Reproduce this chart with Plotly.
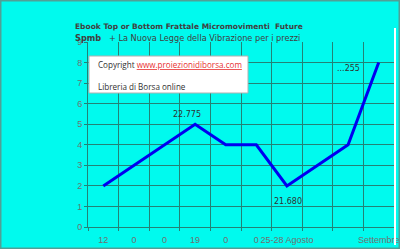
import plotly.graph_objects as go

categories = ["12", "0", "0", "19", "0", "0", "25-28 Agosto", "", "", "Settembre"]
values = [2, 3, 4, 5, 4, 4, 2, 3, 4, 8]
point_labels = {3: "22.775", 6: "21.680", 9: "...255"}
y_ticks = list(range(0, 10))

BG = "rgb(0,250,238)"
GRID = "rgb(35,130,118)"
W, H = 400, 249
L, R, T, B = 88, 6, 42, 22
PW, PH = W - L - R, H - T - B

def px(x):
    return (x - L) / PW

def py(y):
    return (H - B - y) / PH

xs = list(range(len(values)))

fig = go.Figure()
fig.add_trace(go.Scatter(x=xs, y=values, mode="lines",
                         line=dict(color="#0000f0", width=3), showlegend=False,
                         hoverinfo="skip"))
fig.add_trace(go.Scatter(x=xs, y=values, xaxis="x2", mode="none",
                         showlegend=False, hoverinfo="skip"))

fig.update_layout(
    width=W, height=H,
    margin=dict(l=L, r=R, t=T, b=B, autoexpand=False),
    paper_bgcolor=BG, plot_bgcolor=BG,
    font=dict(family="Liberation Sans, Arial", size=9, color="#707070"),
    xaxis=dict(range=[-0.5, len(values) - 0.5],
               tickvals=[i - 0.5 for i in range(len(values) + 1)],
               ticktext=[""] * (len(values) + 1),
               showgrid=True, gridcolor=GRID, gridwidth=1,
               showline=True, linecolor=GRID, linewidth=1,
               ticks="outside", ticklen=3, tickcolor=GRID,
               zeroline=False, fixedrange=True, automargin=False, tickangle=0),
    xaxis2=dict(range=[-0.5, len(values) - 0.5], overlaying="x", side="bottom",
                tickvals=xs, ticktext=categories, showgrid=False,
                showline=False, ticks="", zeroline=False, automargin=False,
                tickangle=0, ticklabeloverflow="allow", ticklabelstandoff=6,
                tickfont=dict(size=9, color="#707070")),
    yaxis=dict(range=[0, 9], tickvals=y_ticks, ticktext=[str(v) for v in y_ticks],
               showgrid=True, gridcolor=GRID, gridwidth=1,
               showline=True, linecolor=GRID, linewidth=1,
               ticks="outside", ticklen=3, tickcolor=GRID,
               zeroline=False, fixedrange=True, automargin=False),
)

annotations = []
label_pos = {3: (2.72, 5.45), 6: (6.05, 1.25), 9: (8.0, 7.7)}
for i, txt in point_labels.items():
    ax, ay = label_pos[i]
    annotations.append(dict(x=ax, y=ay, xref="x", yref="y", text=txt,
                            showarrow=False, font=dict(size=8, color="#303030",
                            family="DejaVu Sans")))

annotations.append(dict(x=px(73), y=py(27), xref="paper", yref="paper",
                        xanchor="left", yanchor="middle", showarrow=False,
                        text="<b>Ebook Top or Bottom Frattale Micromovimenti  Future</b>",
                        font=dict(family="DejaVu Sans", size=7.5, color="#404040")))
annotations.append(dict(x=px(73), y=py(38), xref="paper", yref="paper",
                        xanchor="left", yanchor="middle", showarrow=False,
                        text="<b>Spmb</b>   + La Nuova Legge della Vibrazione per i prezzi",
                        font=dict(family="DejaVu Sans", size=8.2, color="#404040")))
annotations.append(dict(x=px(96), y=py(65), xref="paper", yref="paper",
                        xanchor="left", yanchor="middle", showarrow=False,
                        text="Copyright <span style='color:#e83030;text-decoration:underline'>www.proiezionidiborsa.com</span>",
                        font=dict(family="Open Sans", size=8.1, color="#303030")))
annotations.append(dict(x=px(96), y=py(86), xref="paper", yref="paper",
                        xanchor="left", yanchor="middle", showarrow=False,
                        text="Libreria di Borsa online",
                        font=dict(family="Open Sans", size=8.1, color="#303030")))
fig.update_layout(annotations=annotations)

shapes = [
    dict(type="rect", xref="paper", yref="paper", x0=px(89), x1=px(248),
         y0=py(93), y1=py(56), fillcolor="white", line=dict(color="#b0b0b0", width=1),
         layer="above"),
    dict(type="line", xref="paper", yref="paper", x0=px(395), x1=px(395),
         y0=py(245), y1=py(28), line=dict(color="white", width=2)),
    dict(type="rect", xref="paper", yref="paper", x0=px(0.75), x1=px(399.25),
         y0=py(248.25), y1=py(0.75), line=dict(color="rgb(80,160,150)", width=1.5),
         fillcolor="rgba(0,0,0,0)"),
]
fig.update_layout(shapes=shapes)

fig.write_html("out.html")
